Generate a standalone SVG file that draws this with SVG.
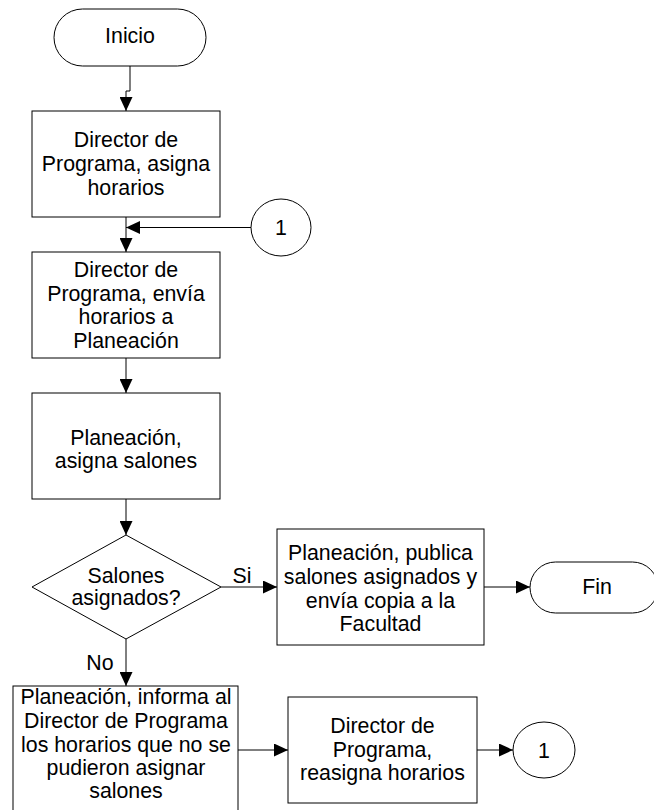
<svg xmlns="http://www.w3.org/2000/svg" width="654" height="810" viewBox="0 0 654 810">
<defs>
<style>
.s{fill:#fff;stroke:#000;stroke-width:1}
.c{fill:none;stroke:#000;stroke-width:1}
text{font-family:"Liberation Sans",Arial,sans-serif;font-size:21.33px;fill:#000;text-anchor:middle}
</style>
<marker id="ah" markerUnits="userSpaceOnUse" markerWidth="14" markerHeight="13" refX="14" refY="6.5" orient="auto">
<path d="M0,0 L14,6.5 L0,13 z" fill="#000"/>
</marker>
</defs>
<rect width="654" height="810" fill="#fff"/>
<g id="connectors">
<path class="c" d="M130,66 V91 H126 V111" marker-end="url(#ah)"/>
<path class="c" d="M126,217 V252" marker-end="url(#ah)"/>
<path class="c" d="M251,227.5 H126" marker-end="url(#ah)"/>
<path class="c" d="M126,358 V393" marker-end="url(#ah)"/>
<path class="c" d="M126,499 V535" marker-end="url(#ah)"/>
<path class="c" d="M221,587 H277" marker-end="url(#ah)"/>
<path class="c" d="M484,587 H530" marker-end="url(#ah)"/>
<path class="c" d="M126,639 V686" marker-end="url(#ah)"/>
<path class="c" d="M238,750 H288" marker-end="url(#ah)"/>
<path class="c" d="M477,750 H513" marker-end="url(#ah)"/>
<text x="242" y="583">Si</text>
<text x="100" y="670">No</text>
</g>
<g id="inicio">
<rect class="s" x="54" y="9" width="152" height="57" rx="28.5"/>
<text x="130" y="43">Inicio</text>
</g>
<g id="box1">
<rect class="s" x="32" y="111" width="188" height="106"/>
<text x="126" y="147">Director de</text>
<text x="126" y="171">Programa, asigna</text>
<text x="126" y="195">horarios</text>
</g>
<g id="conn1a">
<ellipse class="s" cx="281" cy="227.5" rx="30" ry="28.5"/>
<text x="281" y="235">1</text>
</g>
<g id="box2">
<rect class="s" x="32" y="252" width="188" height="106"/>
<text x="126" y="277">Director de</text>
<text x="126" y="301">Programa, envía</text>
<text x="126" y="324">horarios a</text>
<text x="126" y="348">Planeación</text>
</g>
<g id="box3">
<rect class="s" x="32" y="393" width="188" height="106"/>
<text x="126" y="445">Planeación,</text>
<text x="126" y="468">asigna salones</text>
</g>
<g id="decision">
<path class="s" d="M126,535 L221,587 L126,639 L32,587 Z"/>
<text x="126" y="583">Salones</text>
<text x="126" y="605">asignados?</text>
</g>
<g id="box4">
<rect class="s" x="277" y="529" width="207" height="116"/>
<text x="380.5" y="560">Planeación, publica</text>
<text x="380.5" y="584">salones asignados y</text>
<text x="380.5" y="607.5">envía copia a la</text>
<text x="380.5" y="631">Facultad</text>
</g>
<g id="fin">
<rect class="s" x="530" y="562" width="128" height="51" rx="25.5"/>
<text x="597" y="594">Fin</text>
</g>
<g id="box5">
<rect class="s" x="13" y="686" width="225" height="130"/>
<text x="126" y="704">Planeación, informa al</text>
<text x="126" y="728">Director de Programa</text>
<text x="126" y="752">los horarios que no se</text>
<text x="126" y="775">pudieron asignar</text>
<text x="126" y="798">salones</text>
</g>
<g id="box6">
<rect class="s" x="288" y="697" width="189" height="106"/>
<text x="382.5" y="733">Director de</text>
<text x="382.5" y="757">Programa,</text>
<text x="382.5" y="780">reasigna horarios</text>
</g>
<g id="conn1b">
<ellipse class="s" cx="544" cy="750" rx="31" ry="28"/>
<text x="544" y="758">1</text>
</g>
</svg>
